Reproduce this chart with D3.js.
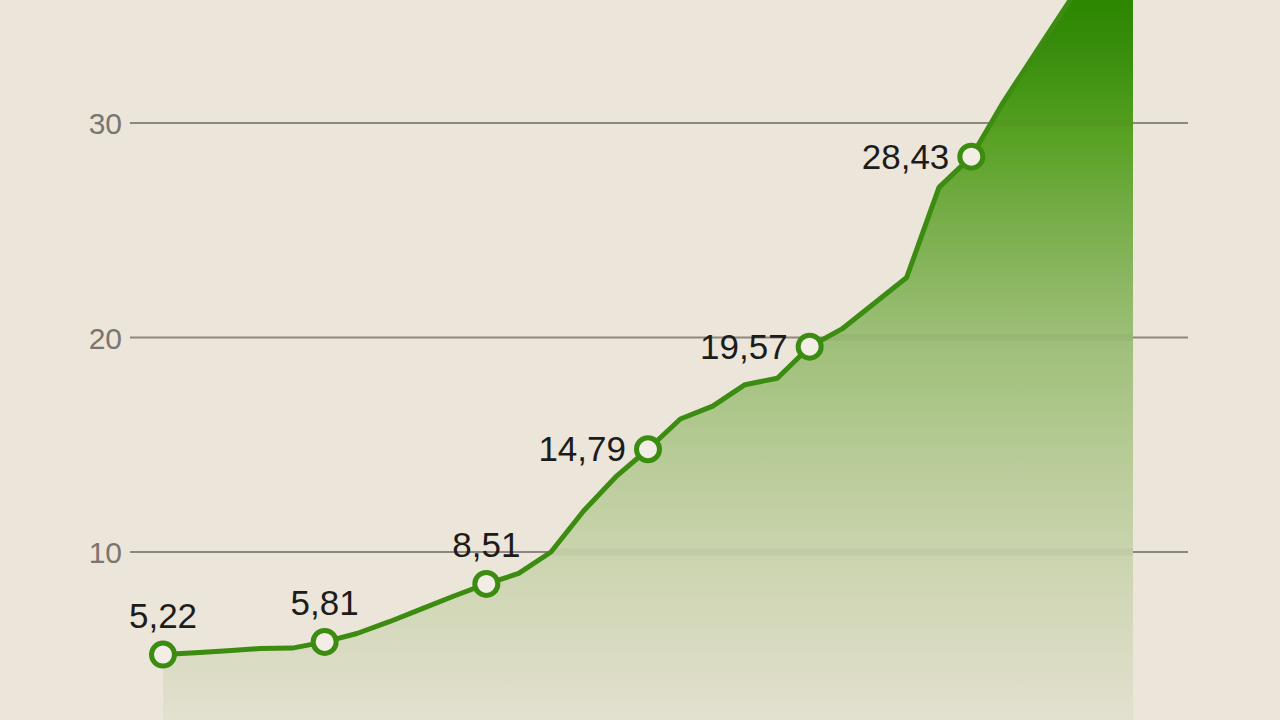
<!DOCTYPE html>
<html>
<head>
<meta charset="utf-8">
<script src="https://cdn.jsdelivr.net/npm/d3@7"></script>
<style>
  html, body { margin: 0; padding: 0; background: #ece5da; overflow: hidden; }
  svg { display: block; }
  .tick-label { font-family: "Liberation Sans", Arial, sans-serif; font-size: 30px; fill: #7a756e; }
  .point-label { font-family: "Liberation Sans", Arial, sans-serif; font-size: 35px; fill: #1c1c1a; }
</style>
</head>
<body>
<svg id="chart"></svg>
<script>
// series, one value per step (31 steps)
var values = [5.22, 5.30, 5.40, 5.50, 5.52, 5.81, 6.20, 6.75, 7.35, 7.95,
              8.51, 9.00, 10.00, 11.90, 13.50, 14.79, 16.20, 16.80, 17.80, 18.10,
              19.57, 20.40, 21.60, 22.80, 27.00, 28.43, 31.00, 33.30, 35.60, 38.00, 40.50];
// steps that carry a marker + value label
var labelIndex = [0, 5, 10, 15, 20, 25];
// label placement: above the marker or to its left
var labelSide = ["top", "top", "top", "left", "left", "left"];
var gridTicks = [10, 20, 30];

var W = 1280, H = 720;
var svg = d3.select("#chart").attr("width", W).attr("height", H);

var x = d3.scaleLinear().domain([0, values.length - 1]).range([163, 1133]);
var y = d3.scaleLinear().domain([0, 30]).range([766.5, 123]);

var defs = svg.append("defs");
var grad = defs.append("linearGradient")
  .attr("id", "areaGrad")
  .attr("gradientUnits", "userSpaceOnUse")
  .attr("x1", 0).attr("y1", 0).attr("x2", 0).attr("y2", H);
[[0, "#2c8600"], [0.08, "#3a8f0e"], [0.18, "#55a020"], [0.3, "#76ad48"],
 [0.47, "#9dbf78"], [0.62, "#b5ca94"], [0.77, "#cad4ae"], [0.9, "#d9dbc1"], [1, "#e3e0d0"]]
  .forEach(function(s){
    grad.append("stop").attr("offset", s[0]).attr("stop-color", s[1]);
  });

var area = d3.area()
  .x(function(d, i){ return x(i); })
  .y0(y(0))
  .y1(function(d){ return y(d); });

var line = d3.line()
  .x(function(d, i){ return x(i); })
  .y(function(d){ return y(d); });

defs.append("clipPath").attr("id", "areaClip")
  .append("path").attr("d", area(values));

// grid + tick labels
var grid = svg.append("g").classed("grid", true);
grid.selectAll("line")
  .data(gridTicks).enter()
  .append("line")
    .attr("x1", 130).attr("x2", 1188)
    .attr("y1", function(d){ return y(d); })
    .attr("y2", function(d){ return y(d); })
    .style("stroke", "#8c8780")
    .style("stroke-width", 2);
grid.selectAll("text")
  .data(gridTicks).enter()
  .append("text")
    .classed("tick-label", true)
    .attr("x", 122)
    .attr("y", function(d){ return y(d) + 11; })
    .attr("text-anchor", "end")
    .text(function(d){ return d; });

// filled area
svg.append("path")
  .attr("d", area(values))
  .style("fill", "url(#areaGrad)");

// faint grid bands showing through the fill
svg.append("g")
  .attr("clip-path", "url(#areaClip)")
  .selectAll("line")
  .data(gridTicks).enter()
  .append("line")
    .attr("x1", 130).attr("x2", 1188)
    .attr("y1", function(d){ return y(d); })
    .attr("y2", function(d){ return y(d); })
    .style("stroke", "#5e5a40")
    .style("stroke-opacity", 0.07)
    .style("stroke-width", 7);

// line
svg.append("path")
  .attr("d", line(values))
  .style("fill", "none")
  .style("stroke", "#3c8c12")
  .style("stroke-width", 5)
  .style("stroke-linejoin", "round")
  .style("stroke-linecap", "round");

// markers
var marks = svg.append("g").selectAll("g")
  .data(labelIndex).enter()
  .append("g")
    .attr("transform", function(i){ return "translate(" + [x(i), y(values[i])] + ")"; });

marks.append("circle")
  .attr("r", 11.5)
  .style("fill", "#f2eee6")
  .style("stroke", "#3c8c12")
  .style("stroke-width", 5);

marks.append("text")
  .classed("point-label", true)
  .attr("x", function(i, k){ return labelSide[k] === "left" ? -22 : 0; })
  .attr("y", function(i, k){ return labelSide[k] === "left" ? 12 : -27; })
  .attr("text-anchor", function(i, k){ return labelSide[k] === "left" ? "end" : "middle"; })
  .text(function(i){ return values[i].toFixed(2).replace(".", ","); });
</script>
</body>
</html>
